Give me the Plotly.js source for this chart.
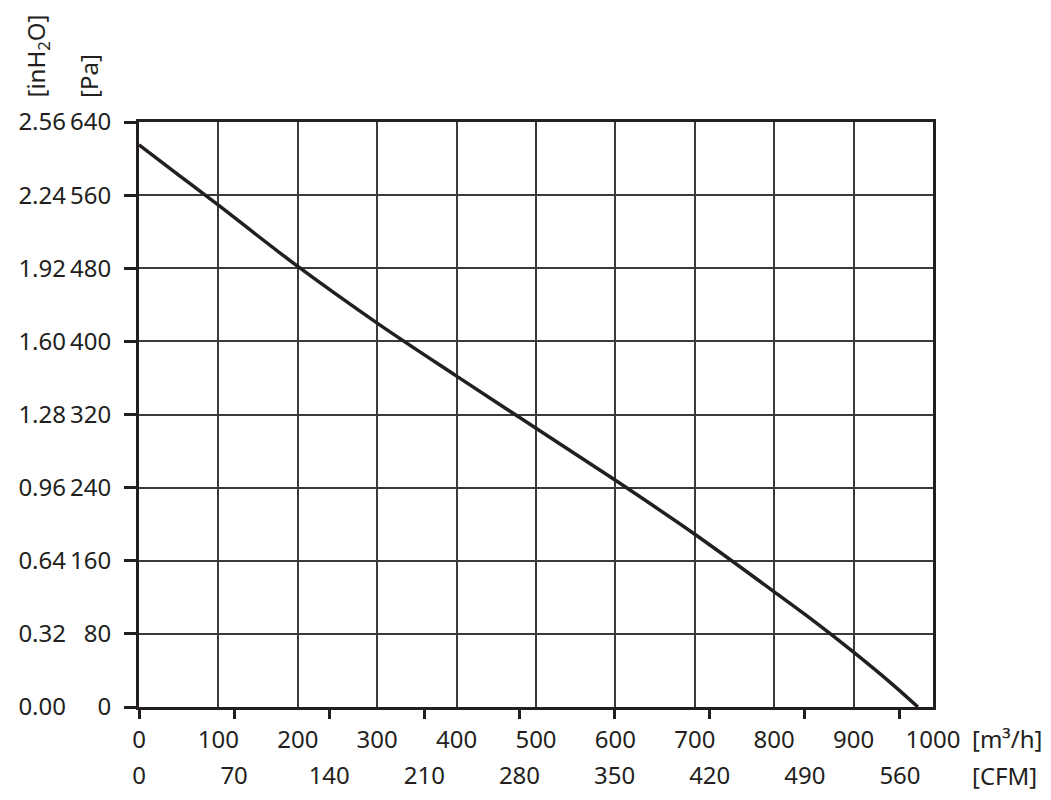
<!DOCTYPE html>
<html>
<head>
<meta charset="utf-8">
<script src="https://cdn.plot.ly/plotly-3.0.1.min.js"></script>
<style>html,body{margin:0;padding:0;background:#fff;}#chart{width:1051px;height:800px;}</style>
</head>
<body>
<div id="chart"></div>
<script>
// Airflow (m³/h) and static pressure (Pa)
var flowM3h = [0, 50, 100, 200, 300, 400, 500, 600, 700, 800, 850, 900, 950, 981];
var pressurePa = [615, 582, 549, 482, 420, 362, 305, 248, 189, 126, 94, 60, 24, 0];

// Axis tick values and labels
var m3hTicks = [0, 100, 200, 300, 400, 500, 600, 700, 800, 900, 1000];
var cfmTicks = [0, 70, 140, 210, 280, 350, 420, 490, 560];
var paTicks = [0, 80, 160, 240, 320, 400, 480, 560, 640];
var inH2OTicks = [0, 0.32, 0.64, 0.96, 1.28, 1.60, 1.92, 2.24, 2.56];
var inH2OLabels = ["0.00", "0.32", "0.64", "0.96", "1.28", "1.60", "1.92", "2.24", "2.56"];
var cfmMax = 584.3;   // CFM equivalent of 1000 m³/h on this chart

var ink = '#231f20';
var font = {family: 'Noto Sans, sans-serif', size: 24, color: ink};

var W = 1051, H = 800, ML = 66, MR = 118, MT = 122, MB = 93;
var plotW = W - ML - MR;
var xStart = (139 - ML) / plotW;

var traces = [
  {x: flowM3h, y: pressurePa, type: 'scatter', mode: 'lines',
   line: {color: ink, width: 3.5, shape: 'spline', smoothing: 1.0},
   hoverinfo: 'skip', showlegend: false},
  {x: [], y: [], xaxis: 'x2', yaxis: 'y2', type: 'scatter', mode: 'lines', showlegend: false}
];

var layout = {
  width: W, height: H,
  margin: {l: ML, r: MR, t: MT, b: MB, pad: 0},
  paper_bgcolor: '#fff', plot_bgcolor: '#fff',
  font: font,
  showlegend: false,
  xaxis: {
    domain: [xStart, 1],
    range: [0, 1000], tickvals: m3hTicks, ticktext: m3hTicks.map(String),
    ticks: '', showgrid: true, gridcolor: '#3a3a3a', gridwidth: 2,
    showline: true, linecolor: ink, linewidth: 3, mirror: true,
    zeroline: false, tickfont: font, ticklabelstandoff: 9, fixedrange: true
  },
  xaxis2: {
    domain: [xStart, 1],
    overlaying: 'x', anchor: 'y', side: 'bottom',
    range: [0, cfmMax], tickvals: cfmTicks, ticktext: cfmTicks.map(String),
    ticks: 'outside', ticklen: 11, tickwidth: 3, tickcolor: ink,
    showgrid: false, showline: false, zeroline: false,
    tickfont: font, ticklabelstandoff: 36, fixedrange: true
  },
  yaxis: {
    range: [0, 640], tickvals: paTicks, ticktext: paTicks.map(String),
    ticks: 'outside', ticklen: 12, tickwidth: 3, tickcolor: ink,
    showgrid: true, gridcolor: '#3a3a3a', gridwidth: 2,
    showline: true, linecolor: ink, linewidth: 3, mirror: true,
    zeroline: false, tickfont: font, ticklabelstandoff: 8, fixedrange: true
  },
  yaxis2: {
    overlaying: 'y', anchor: 'free', position: 0, side: 'left',
    range: [0, 2.56], tickvals: inH2OTicks, ticktext: inH2OLabels,
    ticks: '', showgrid: false, showline: false, zeroline: false,
    tickfont: font, fixedrange: true
  },
  annotations: [
    {text: '[m³/h]', xref: 'paper', yref: 'paper', x: (970 - ML) / plotW, y: (707 - 738) / 585,
     xanchor: 'left', yanchor: 'middle', showarrow: false, font: font},
    {text: '[CFM]', xref: 'paper', yref: 'paper', x: (970 - ML) / plotW, y: (707 - 775) / 585,
     xanchor: 'left', yanchor: 'middle', showarrow: false, font: font},
    {text: '[inH<sub>2</sub>O]', xref: 'paper', yref: 'paper', x: (37 - ML) / plotW, y: (707 - 100) / 585,
     xanchor: 'center', yanchor: 'bottom', textangle: -90, showarrow: false, font: font},
    {text: '[Pa]', xref: 'paper', yref: 'paper', x: (89 - ML) / plotW, y: (707 - 100) / 585,
     xanchor: 'center', yanchor: 'bottom', textangle: -90, showarrow: false, font: font}
  ]
};

Plotly.newPlot('chart', traces, layout, {displayModeBar: false, staticPlot: true});
</script>
</body>
</html>
